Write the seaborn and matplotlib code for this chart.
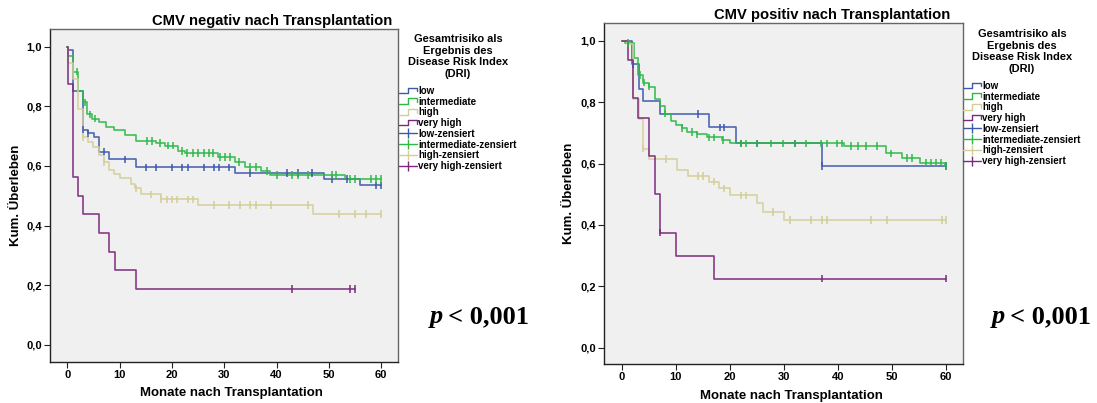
import numpy as np
import pandas as pd
import matplotlib
matplotlib.use("Agg")
import matplotlib.pyplot as plt
import seaborn as sns
from matplotlib.lines import Line2D
from matplotlib.legend_handler import HandlerBase

# Risk groups (Disease Risk Index) and their line colours
groups = ["low", "intermediate", "high", "very high"]
group_colors = ["#3E58AC", "#2EB848", "#D3CE97", "#7C287D"]

# ---- CMV negative: event times (months) and survival after each step ----
neg_low_t = [0, 0.2, 1, 3, 4, 5.2, 6.1, 8, 13.1, 32, 49, 56]
neg_low_s = [1.0, 0.99, 0.85, 0.722, 0.709, 0.696, 0.648, 0.622, 0.595, 0.577, 0.556, 0.535]
neg_low_cens = [3, 4, 7.1, 11, 15, 17, 20, 22, 23.1, 26.1, 28.1, 29, 31, 35, 42, 44,
                46.8, 50.5, 53.5, 59, 60]

neg_int_t = [0, 0.2, 1, 2, 3, 3.8, 4.7, 6, 7.4, 9, 11, 13.2, 17, 18.6, 21.2, 22.5,
             28.8, 32, 34, 37, 38.7, 53]
neg_int_s = [1.0, 0.968, 0.916, 0.851, 0.813, 0.773, 0.759, 0.746, 0.731, 0.720, 0.703,
             0.683, 0.676, 0.668, 0.651, 0.644, 0.631, 0.614, 0.597, 0.583, 0.570, 0.556]
neg_int_cens = [1.9, 3.4, 4.3, 5.3, 15.2, 16.1, 17.7, 19.3, 20.2, 22, 22.9, 24, 25, 26.1,
                27.1, 27.9, 29.2, 30.1, 31.1, 32.8, 35, 36, 38.2, 40, 42.9, 44, 46,
                50.5, 51.4, 54, 54.9, 58.1, 59, 60]

neg_high_t = [0, 0.2, 1, 2, 3, 4, 5, 6, 7, 8, 9, 10, 12.2, 13, 14, 18, 25, 47]
neg_high_s = [1.0, 0.944, 0.893, 0.79, 0.696, 0.679, 0.662, 0.637, 0.612, 0.588, 0.572,
              0.558, 0.540, 0.525, 0.505, 0.488, 0.469, 0.439]
neg_high_cens = [3.1, 7.1, 13.1, 16, 18, 19, 20, 21, 23, 24, 28, 31, 33, 35, 36, 39, 46,
                 52, 55, 57, 60]

neg_vhigh_t = [0, 0.2, 1.0, 2.1, 3.1, 6.1, 8.0, 9.1, 13.1]
neg_vhigh_s = [1.0, 0.875, 0.5625, 0.5, 0.4375, 0.375, 0.3125, 0.25, 0.1875]
neg_vhigh_cens = [43, 54, 55]

# ---- CMV positive ----
pos_low_t = [0, 1.9, 3.1, 4.0, 7.0, 16.1, 21.1, 37.1]
pos_low_s = [1.0, 0.923, 0.842, 0.804, 0.762, 0.718, 0.666, 0.593]
pos_low_cens = [2.0, 14.1, 18.1, 19.0, 22.1, 25.1, 32.1, 37.1, 60.1]

pos_int_t = [0, 0.6, 2.2, 3.0, 3.9, 5.1, 6.1, 7.0, 8.0, 9.1, 10.1, 11.1, 12.0, 14.0,
             15.7, 18.6, 20.1, 41.1, 49, 51.9, 55.2, 59.8]
pos_int_s = [1.0, 0.993, 0.943, 0.888, 0.864, 0.851, 0.812, 0.787, 0.763, 0.739, 0.725,
             0.715, 0.703, 0.695, 0.685, 0.676, 0.666, 0.658, 0.633, 0.619, 0.603, 0.592]
pos_int_cens = [1.2, 3.4, 4.1, 5.1, 8.0, 11.1, 13, 14, 16.1, 17.1, 18.8, 22.1, 23, 25.1,
                27.7, 29.9, 32.1, 34.1, 36.9, 38, 39.8, 40.8, 42.5, 43.7, 45.3, 47.2,
                49.8, 52.8, 53.7, 56.3, 57.2, 58.2, 59.1, 60.1]

pos_high_t = [0, 0.9, 2.0, 3.1, 4.0, 5.1, 10.2, 12.2, 16.1, 18.0, 20.0, 25.1, 26.1, 30.1]
pos_high_s = [1.0, 0.991, 0.809, 0.745, 0.649, 0.614, 0.578, 0.559, 0.541, 0.519, 0.496,
              0.470, 0.443, 0.416]
pos_high_cens = [4.0, 8.2, 14.1, 15.1, 17.0, 19.0, 22, 23, 28, 31.1, 35.1, 37.1, 38.1,
                 46.1, 49.1, 59.3, 60.1]

pos_vhigh_t = [0, 1.1, 2.0, 3.0, 5.1, 6.2, 7.1, 10.1, 17.1]
pos_vhigh_s = [1.0, 0.9375, 0.8125, 0.75, 0.625, 0.5, 0.375, 0.30, 0.225]
pos_vhigh_cens = [7.1, 37.1, 60.1]

panels = [
    {
        "title": "CMV negativ nach Transplantation",
        "curves": [(neg_low_t, neg_low_s, neg_low_cens),
                   (neg_int_t, neg_int_s, neg_int_cens),
                   (neg_high_t, neg_high_s, neg_high_cens),
                   (neg_vhigh_t, neg_vhigh_s, neg_vhigh_cens)],
    },
    {
        "title": "CMV positiv nach Transplantation",
        "curves": [(pos_low_t, pos_low_s, pos_low_cens),
                   (pos_int_t, pos_int_s, pos_int_cens),
                   (pos_high_t, pos_high_s, pos_high_cens),
                   (pos_vhigh_t, pos_vhigh_s, pos_vhigh_cens)],
    },
]

legend_title = "Gesamtrisiko als\nErgebnis des\nDisease Risk Index\n(DRI)"
p_label = "< 0,001"
y_ticks = [0.0, 0.2, 0.4, 0.6, 0.8, 1.0]
x_ticks = [0, 10, 20, 30, 40, 50, 60]

sns.set_style("white")
plt.rcParams["font.family"] = ["Liberation Sans", "DejaVu Sans"]
plt.rcParams["font.weight"] = "bold"
plt.rcParams["axes.labelweight"] = "bold"
for key in ("text.color", "axes.labelcolor", "xtick.labelcolor", "ytick.labelcolor"):
    plt.rcParams[key] = "black"

W, H = 1097, 403
fig = plt.figure(figsize=(W / 100, H / 100), dpi=100)

palette = dict(zip(groups, group_colors))


def build_frames(curves):
    line_rows, cens_rows = [], []
    for g, (t, s, c) in zip(groups, curves):
        t = np.asarray(t, float)
        s = np.asarray(s, float)
        end = max(t[-1], max(c))
        for ti, si in zip(np.append(t, end), np.append(s, s[-1])):
            line_rows.append((g, ti, si))
        idx = np.searchsorted(t, np.asarray(c, float), side="right") - 1
        for ci, k in zip(c, idx):
            cens_rows.append((g, ci, s[k]))
    lines = pd.DataFrame(line_rows, columns=["group", "t", "s"])
    cens = pd.DataFrame(cens_rows, columns=["group", "t", "s"])
    return lines, cens


class StepKey(Line2D):
    pass


class StepHandler(HandlerBase):
    def create_artists(self, legend, orig_handle, xdescent, ydescent, width,
                       height, fontsize, trans):
        x0, y0 = -xdescent, -ydescent
        xs = [x0, x0 + 0.5 * width, x0 + 0.5 * width, x0 + width, x0 + width]
        ys = [y0 + 0.1 * height, y0 + 0.1 * height, y0 + 0.9 * height,
              y0 + 0.9 * height, y0 + 0.35 * height]
        ln = Line2D(xs, ys, color=orig_handle.get_color(), lw=1.0)
        ln.set_transform(trans)
        return [ln]


axes_px = [(50, 398, 29, 362), (604, 963, 23, 364)]
ylims = [(-0.057, 1.059), (-0.053, 1.058)]
title_px = [(272, 21), (832, 15)]
legend_px = [(399, 34), (963, 29)]
p_px = [(430, 317), (992, 317)]

for i, panel in enumerate(panels):
    l, r, t, b = axes_px[i]
    ax = fig.add_axes([l / W, (H - b) / H, (r - l) / W, (b - t) / H])
    ax.set_facecolor("#f0f0f0")

    lines, cens = build_frames(panel["curves"])
    sns.lineplot(data=lines, x="t", y="s", hue="group", hue_order=groups,
                 palette=palette, estimator=None, sort=False,
                 drawstyle="steps-post", lw=1.2, alpha=0.9, legend=False, ax=ax)
    sns.scatterplot(data=cens, x="t", y="s", hue="group", hue_order=groups,
                    palette=palette, marker="|", s=30, linewidths=1.1,
                    legend=False, ax=ax, zorder=3)

    ax.set_xlim(-3.3, 63.2)
    ax.set_ylim(*ylims[i])
    ax.set_xticks(x_ticks)
    ax.set_xticklabels([str(v) for v in x_ticks])
    ax.set_yticks(y_ticks)
    ax.set_yticklabels([f"{v:.1f}".replace(".", ",") for v in y_ticks])
    ax.tick_params(direction="out", length=4, width=0.8, color="#222222",
                   labelsize=8, pad=2, bottom=True, left=True)
    for side, sp in ax.spines.items():
        sp.set_color("#222222" if side in ("left", "bottom") else "#666666")
        sp.set_linewidth(1.0)

    ax.set_xlabel("Monate nach Transplantation", fontsize=9.5)
    ax.set_ylabel("Kum. Überleben", fontsize=9.5)
    ax.xaxis.set_label_coords(0.522, (b - (387 if i == 0 else 390)) / (b - t))
    ax.yaxis.set_label_coords(-0.081, 0.5)

    tx, ty = title_px[i]
    fig.text(tx / W, 1 - ty / H, panel["title"], ha="center", va="center",
             fontsize=10.6, fontweight="bold")

    handles = [StepKey([], [], color=c) for c in group_colors]
    handles += [Line2D([], [], color=c, marker="|", markersize=7, lw=1.0,
                       markeredgewidth=1.0) for c in group_colors]
    labels = groups + [g + "-zensiert" for g in groups]
    lx, ly = legend_px[i]
    leg = fig.legend(handles, labels, loc="upper left",
                     bbox_to_anchor=(lx / W, 1 - ly / H), frameon=False,
                     handler_map={StepKey: StepHandler()},
                     prop={"size": 7.0, "weight": "bold"},
                     title=legend_title,
                     title_fontproperties={"size": 7.9, "weight": "bold"},
                     handlelength=1.8, handletextpad=0.2, labelspacing=0.08,
                     borderaxespad=0, borderpad=0, numpoints=1,
                     alignment="center")
    leg.get_title().set_multialignment("center")
    leg._legend_box.sep = 5

    px, py = p_px[i]
    fig.text(px / W, 1 - py / H, "p", ha="left", va="center", fontsize=19,
             family="Liberation Serif", fontweight="bold", style="italic")
    fig.text((px + 18) / W, 1 - py / H, p_label, ha="left", va="center",
             fontsize=19, family="Liberation Serif", fontweight="bold")

fig.savefig("out.png", dpi=100, facecolor="white")
